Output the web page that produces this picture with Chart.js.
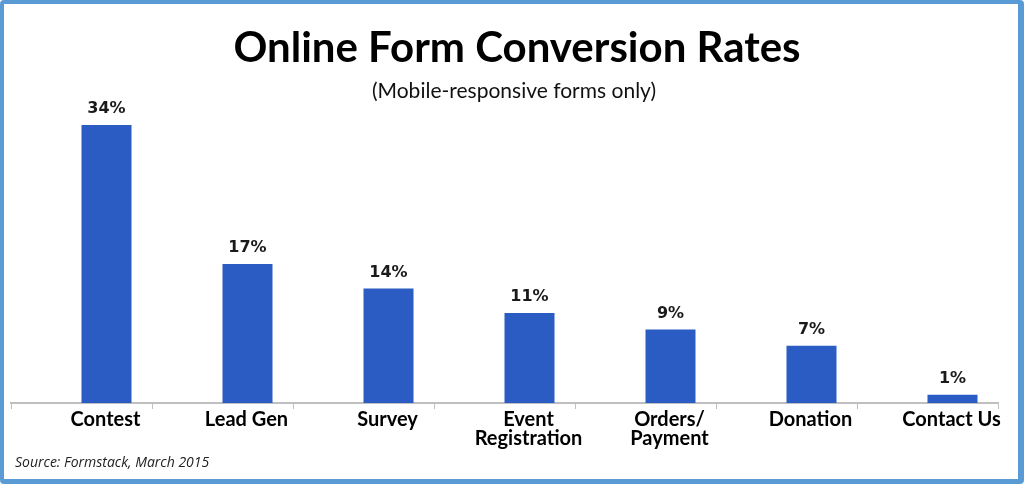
<!DOCTYPE html>
<html>
<head>
<meta charset="utf-8">
<script src="https://cdn.jsdelivr.net/npm/chart.js@4"></script>
<style>
  html, body { margin: 0; padding: 0; background: #fff; }
  #wrap { position: relative; width: 1024px; height: 484px; }
  #frame {
    position: absolute; left: 0; top: 0; width: 1024px; height: 484px;
    box-sizing: border-box; border: 4px solid #5b9bd5;
    border-right-width: 6px; border-bottom-width: 5px;
    border-radius: 4px; pointer-events: none;
  }
  canvas { position: absolute; left: 0; top: 0; }
</style>
</head>
<body>
<div id="wrap">
  <canvas id="formChart" width="1024" height="484"></canvas>
  <div id="frame"></div>
</div>
<script>
const categories = ["Contest", "Lead Gen", "Survey", ["Event", "Registration"], ["Orders/", "Payment"], "Donation", "Contact Us"];
const rates = [34, 17, 14, 11, 9, 7, 1];
const spacer = [null, null, null, null, null, null, null];

const titleText = "Online Form Conversion Rates";
const subtitleText = "(Mobile-responsive forms only)";
const sourceText = "Source: Formstack, March 2015";

const ctx = document.getElementById("formChart").getContext("2d");

// value labels above each bar
const valueLabels = {
    id: "valueLabels",
    afterDatasetsDraw(chart) {
        const c = chart.ctx;
        const meta = chart.getDatasetMeta(1);
        c.save();
        c.font = "bold 16px 'DejaVu Sans'";
        c.fillStyle = "#1a1a1a";
        c.textAlign = "center";
        c.textBaseline = "bottom";
        meta.data.forEach((bar, i) => {
            c.fillText(rates[i] + "%", bar.x, bar.y - 8);
        });
        c.restore();
    }
};

// heading, subheading and source note (drawn by hand so they sit centred on the whole image)
const textBlocks = {
    id: "textBlocks",
    afterDraw(chart) {
        const c = chart.ctx;
        c.save();
        c.fillStyle = "#000";
        c.textAlign = "center";
        c.textBaseline = "alphabetic";
        c.font = "bold 42px Lato";
        c.fillText(titleText, 517, 62);
        c.fillStyle = "#111";
        c.font = "21px Lato";
        c.fillText(subtitleText, 514, 98);
        c.fillStyle = "#222";
        c.textAlign = "left";
        c.font = "italic 14px 'Open Sans'";
        c.fillText(sourceText, 15, 467);
        c.restore();
    }
};

const chart = new Chart(ctx, {
    type: "bar",
    data: {
        labels: categories,
        datasets: [
            { label: "", data: spacer, backgroundColor: "transparent" },
            { label: "Conversion rate", data: rates, backgroundColor: "#2b5cc4" }
        ]
    },
    options: {
        responsive: false,
        animation: false,
        layout: { padding: { left: 11, right: 26, top: 125, bottom: 35 } },
        categoryPercentage: 100 / 141,
        barPercentage: 1,
        plugins: {
            legend: { display: false },
            tooltip: { enabled: false },
            title: { display: false }
        },
        scales: {
            x: {
                grid: { display: true, drawOnChartArea: false, tickLength: 6, color: "#bfbfbf" },
                border: { display: true, color: "#bfbfbf", width: 2 },
                ticks: {
                    labelOffset: 24,
                    padding: 1,
                    maxRotation: 0,
                    autoSkip: false,
                    color: "#000",
                    font: { family: "Lato", size: 20, weight: "bold", lineHeight: 0.95 }
                }
            },
            y: {
                display: false,
                min: 0,
                max: 34
            }
        }
    },
    plugins: [valueLabels, textBlocks]
});
</script>
</body>
</html>
